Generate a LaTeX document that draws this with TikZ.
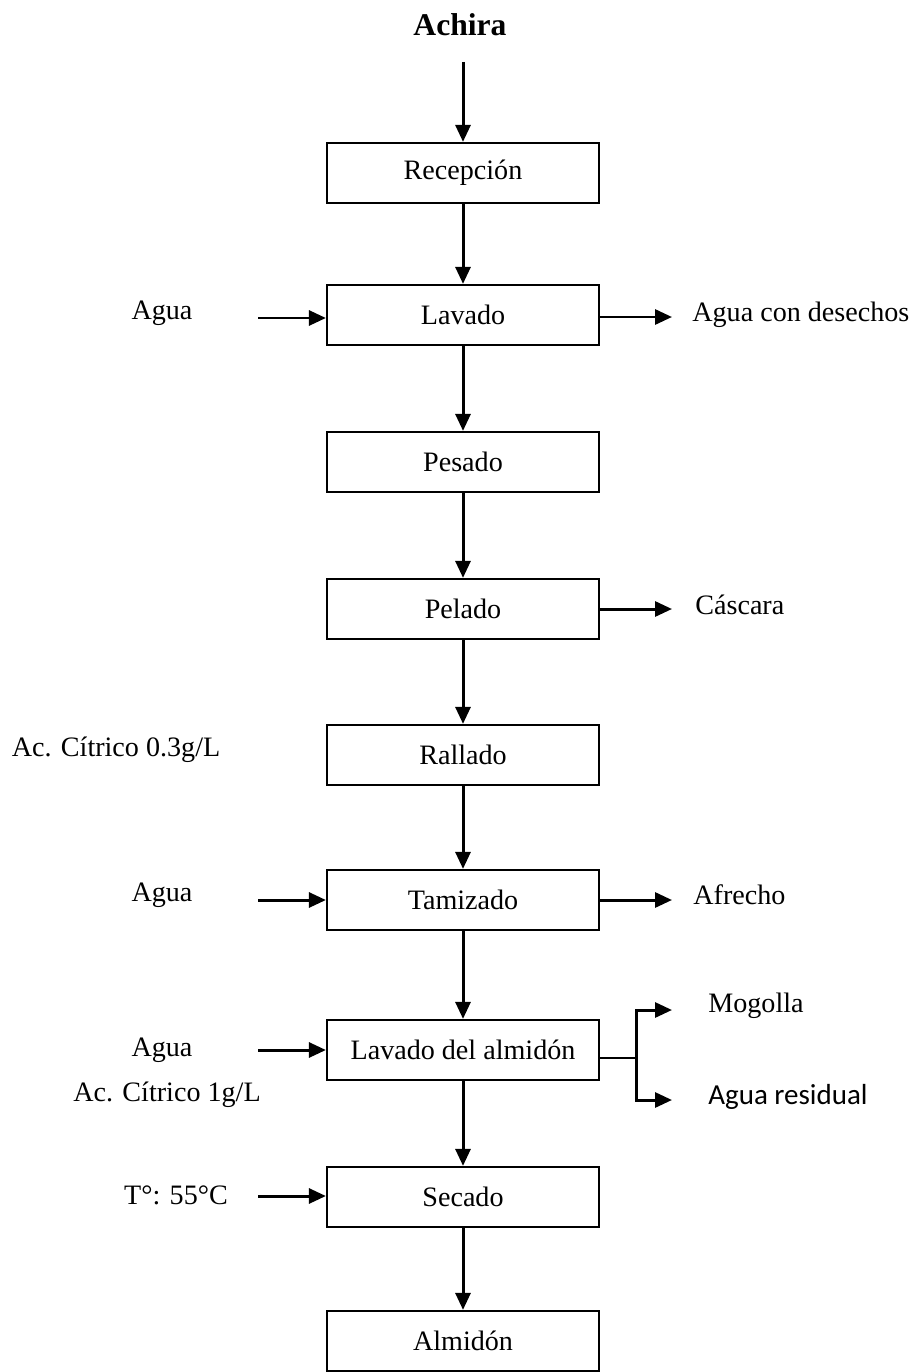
\documentclass[tikz,border=0pt]{standalone}
\usepackage{fontspec}
\setmainfont{Liberation Serif}
\newfontfamily\carlito{Carlito}
\usepackage{tikz}
\usetikzlibrary{arrows.meta,positioning,calc}
\tikzset{
  stepbox/.style={draw=black,line width=1.3pt,minimum width=5.44cm,
    minimum height=1.2cm,inner sep=0pt,font=\fontsize{16}{19}\selectfont},
  sidelabel/.style={font=\fontsize{16}{19}\selectfont,inner sep=0pt},
  flowarrow/.style={-{Triangle[length=3.4mm,width=3mm]},line width=1.7pt}
}
\begin{document}
\begin{tikzpicture}[x=0.02cm,y=-0.02cm]
  \useasboundingbox (0,0) rectangle (921,1372);
  % columna central: etapas del proceso
  \node[sidelabel,font=\fontsize{18}{21}\selectfont\bfseries] (achira) at (460,25) {Achira};
  \coordinate (achiraend) at (463,62);
  \node[stepbox] (recepcion) at (463,173) {Recepción};
  \node[stepbox] (lavado) at (463,315) {Lavado};
  \node[stepbox] (pesado) at (463,462) {Pesado};
  \node[stepbox] (pelado) at (463,609) {Pelado};
  \node[stepbox] (rallado) at (463,755) {Rallado};
  \node[stepbox] (tamizado) at (463,900) {Tamizado};
  \node[stepbox] (lavalm) at (463,1050) {Lavado del almidón};
  \node[stepbox] (secado) at (463,1197) {Secado};
  \node[stepbox] (almidon) at (463,1341) {Almidón};

  \draw[flowarrow] (achiraend) -- (recepcion.north);
  \draw[flowarrow] (recepcion) -- (lavado);
  \draw[flowarrow] (lavado) -- (pesado);
  \draw[flowarrow] (pesado) -- (pelado);
  \draw[flowarrow] (pelado) -- (rallado);
  \draw[flowarrow] (rallado) -- (tamizado);
  \draw[flowarrow] (tamizado) -- (lavalm);
  \draw[flowarrow] (lavalm) -- (secado);
  \draw[flowarrow] (secado) -- (almidon);

  % entradas por la izquierda
  \node[sidelabel] (agua1) at (162,313) {Agua};
  \coordinate (in1) at (258,318);
  \draw[flowarrow] (in1) -- (lavado.west |- in1);
  \node[sidelabel] (citrico1) at (116,750) {Ac. Cítrico 0.3g/L};
  \node[sidelabel] (agua2) at (162,895) {Agua};
  \coordinate (in2) at (258,900);
  \draw[flowarrow] (in2) -- (tamizado.west |- in2);
  \node[sidelabel] (agua3) at (162,1050) {Agua};
  \node[sidelabel] (citrico2) at (167,1095) {Ac. Cítrico 1g/L};
  \coordinate (in3) at (258,1050);
  \draw[flowarrow] (in3) -- (lavalm.west |- in3);
  \node[sidelabel] (temp) at (176,1195) {T°: 55°C};
  \coordinate (in4) at (258,1196);
  \draw[flowarrow] (in4) -- (secado.west |- in4);

  % salidas por la derecha
  \node[sidelabel,anchor=west] (desechos) at (692,315) {Agua con desechos};
  \draw[flowarrow] (lavado.east |- 0,317) -- ($(desechos.west)+(-20,2)$);
  \node[sidelabel,anchor=west] (cascara) at (695,605) {Cáscara};
  \draw[flowarrow] (pelado.east |- 0,609) -- ($(cascara.west)+(-23,4)$);
  \node[sidelabel,anchor=west] (afrecho) at (693,895) {Afrecho};
  \draw[flowarrow] (tamizado.east |- 0,900) -- ($(afrecho.west)+(-21,5)$);
  \node[sidelabel,anchor=west] (mogolla) at (708,1006) {Mogolla};
  \node[sidelabel,anchor=west,font=\carlito\fontsize{16.5}{19}\selectfont] (residual) at (708,1097) {Agua residual};
  \coordinate (split) at (636,1058);
  \draw[line width=1.3pt] (lavalm.east |- split) -- (split);
  \draw[flowarrow] (split) |- ($(mogolla.west)+(-36,4)$);
  \draw[flowarrow] (split) |- ($(residual.west)+(-36,3)$);
\end{tikzpicture}
\end{document}
